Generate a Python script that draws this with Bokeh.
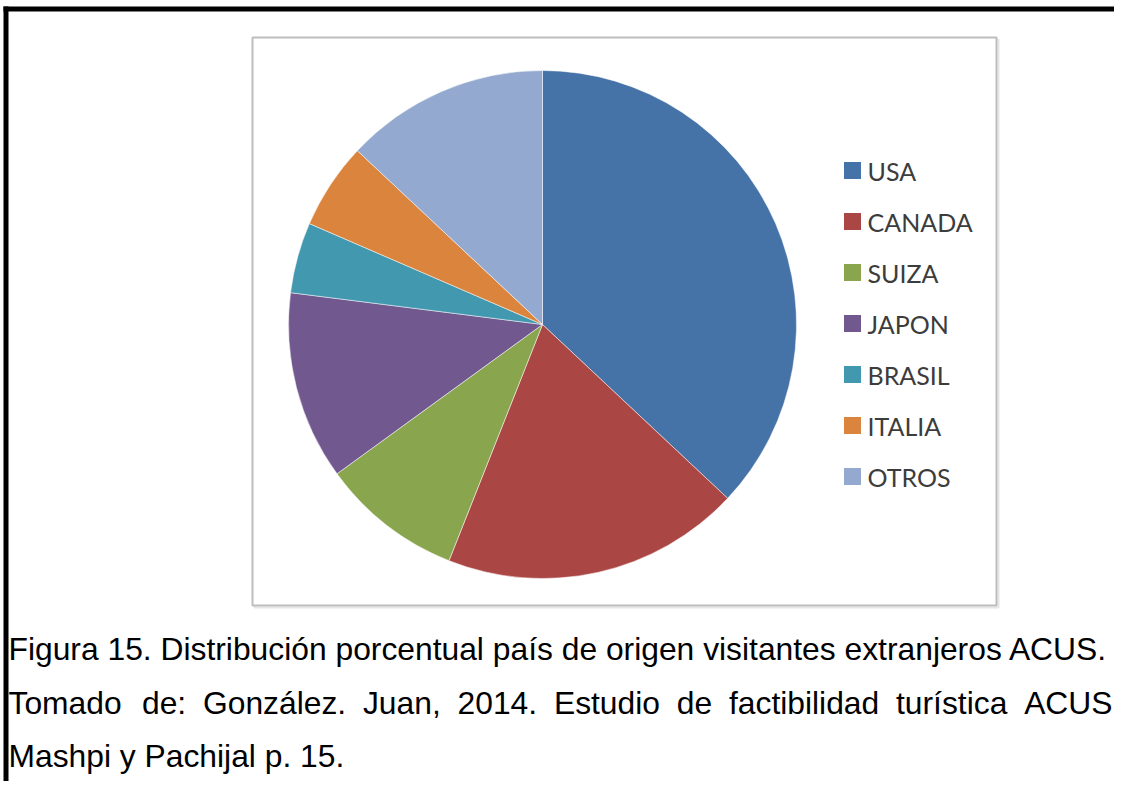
import math
from bokeh.plotting import figure
from bokeh.models import Range1d, ColumnDataSource
from bokeh.core.properties import value
from bokeh.embed import file_html
from bokeh.resources import INLINE

# ---- data ----
countries = ["USA", "CANADA", "SUIZA", "JAPON", "BRASIL", "ITALIA", "OTROS"]
shares = [37.0, 19.0, 9.0, 12.0, 4.5, 5.5, 13.0]
colors = ["#4572A7", "#AA4643", "#89A54E", "#71588F", "#4198AF", "#DB843D", "#93A9CF"]

caption1 = "Figura 15. Distribución porcentual país de origen visitantes extranjeros ACUS."
caption2_words = ["Tomado", "de:", "González.", "Juan,", "2014.", "Estudio", "de",
                  "factibilidad", "turística", "ACUS"]
caption3 = "Mashpi y Pachijal p. 15."

W, H = 1114, 781
p = figure(width=W, height=H, output_backend="svg", toolbar_location=None,
           x_range=Range1d(0, W), y_range=Range1d(0, H), min_border=0)
p.axis.visible = False
p.grid.visible = False
p.outline_line_color = None
p.background_fill_color = "white"
p.border_fill_color = "white"

def Y(py):
    return H - py

def X(px):
    return px

# black page frame (top and left)
p.quad(left=X(3), right=W, bottom=Y(11), top=Y(6), fill_color="black", line_color=None)
p.quad(left=X(3), right=X(8), bottom=0, top=Y(6), fill_color="black", line_color=None)

# chart box with light shadow
p.quad(left=X(254), right=X(998), bottom=Y(607), top=Y(39), fill_color=None,
       line_color="#e6e6e6", line_width=2)
p.quad(left=X(252), right=X(996), bottom=Y(605), top=Y(37), fill_color="white",
       line_color="#bdbdbd", line_width=2)

# pie
total = sum(shares)
starts, ends = [], []
cum = 0.0
for s in shares:
    starts.append(math.pi / 2 - 2 * math.pi * cum / total)
    cum += s
    ends.append(math.pi / 2 - 2 * math.pi * cum / total)
src = ColumnDataSource(dict(country=countries, share=shares, color=colors,
                            start=starts, end=ends))
p.wedge(x=X(542), y=Y(324), radius=254, start_angle="start", end_angle="end",
        direction="clock", fill_color="color", line_color="white", line_alpha=0.5,
        line_width=1, source=src)

# legend
ly = [Y(170 + 51 * i) for i in range(len(countries))]
lsrc = ColumnDataSource(dict(x=[X(852)] * len(countries), tx=[X(867)] * len(countries),
                             y=ly, label=countries, color=colors))
p.rect(x="x", y="y", width=17, height=17, fill_color="color", line_color=None, source=lsrc)
p.text(x="tx", y="y", text="label", text_font=value("Lato"), text_font_size="25px",
       text_color="#3c3c3c", text_baseline="middle", text_align="left", source=lsrc)

# caption (justified second line: word advance widths in em, Arial metrics)
fs = 31.8
word_em = [3.668, 1.390, 4.502, 2.446, 2.502, 3.335, 1.112, 4.724, 3.501, 2.778]
x_start, x_end = 8.0, 1112.0
gap = (x_end - x_start - fs * sum(word_em)) / (len(word_em) - 1)
word_x, cx = [], x_start
for w in word_em:
    word_x.append(cx)
    cx += fs * w + gap

font = value("Liberation Sans")
p.text(x=[X(8)], y=[Y(648)], text=[caption1], text_font=font,
       text_font_size=f"{fs}px", text_color="black", text_baseline="alphabetic")
p.text(x=word_x, y=[Y(702)] * len(word_x), text=caption2_words, text_font=font,
       text_font_size=f"{fs}px", text_color="black", text_baseline="alphabetic")
p.text(x=[X(8)], y=[Y(755)], text=[caption3], text_font=font,
       text_font_size=f"{fs}px", text_color="black", text_baseline="alphabetic")

open("out.html", "w").write(file_html(p, INLINE))
